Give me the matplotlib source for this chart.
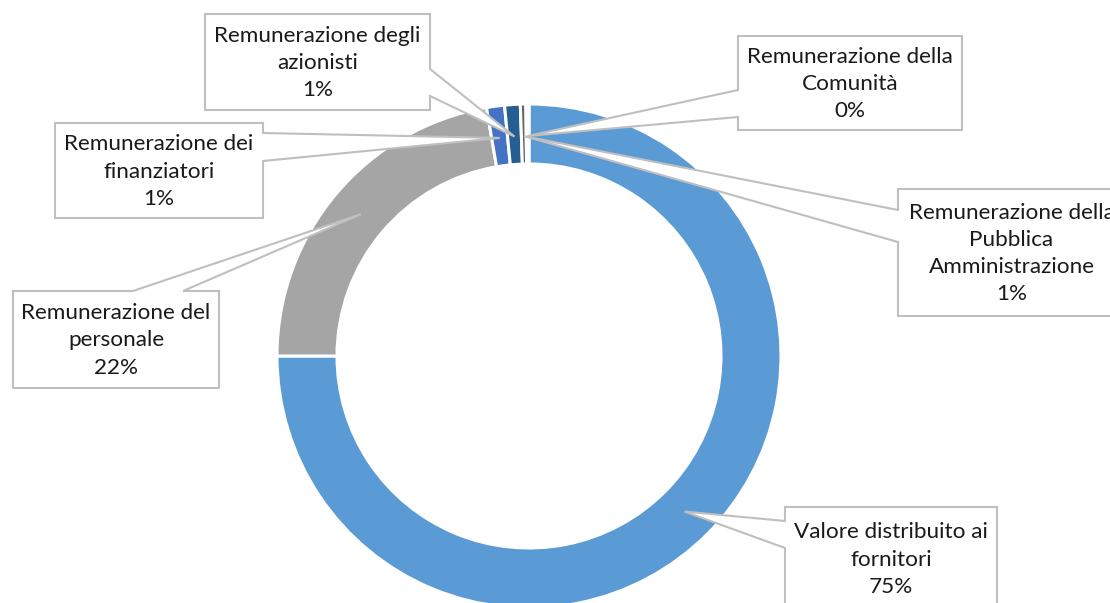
import numpy as np
import matplotlib.pyplot as plt
from matplotlib.patches import Polygon

categories = [
    "Valore distribuito ai\nfornitori",
    "Remunerazione del\npersonale",
    "Remunerazione dei\nfinanziatori",
    "Remunerazione degli\nazionisti",
    "Remunerazione della\nPubblica\nAmministrazione",
    "Remunerazione della\nComunità",
]
values = [75.0, 22.3, 1.15, 1.0, 0.35, 0.2]
pct_labels = ["75%", "22%", "1%", "1%", "1%", "0%"]
colors = ["#5B9BD5", "#A5A5A5", "#4472C4", "#255E91", "#636363", "#997300"]

W, H = 1110, 603
cx, cy = 529, 356
r_out, ring = 252, 60

fig = plt.figure(figsize=(W / 100, H / 100), dpi=100)
ax = fig.add_axes([0, 0, 1, 1])

wedges, _ = ax.pie(values, colors=colors, startangle=270, counterclock=True,
                   radius=r_out, center=(cx, cy),
                   wedgeprops=dict(width=ring, edgecolor="white", linewidth=2.2))
ax.set_xlim(0, W)
ax.set_ylim(H, 0)
ax.axis("off")

# callout boxes (pixel coords): x0, y0, x1, y1, side, a, b
boxes = [
    (785, 507, 997, 610, "left", 521, 548),
    (13, 291, 219, 388, "top", 133, 183),
    (55, 123, 263, 218, "right", 133, 161),
    (205, 14, 430, 110, "right", 69, 96),
    (898, 189, 1125, 316, "left", 210, 242),
    (738, 36, 962, 130, "left", 90, 117),
]

r_tip = r_out - ring / 2 - 2
for w, (x0, y0, x1, y1, side, a, b), cat, pct in zip(wedges, boxes, categories, pct_labels):
    th = np.deg2rad((w.theta1 + w.theta2) / 2)
    tip = (cx + r_tip * np.cos(th), cy + r_tip * np.sin(th))
    if side == "left":
        pts = [(x0, y0), (x1, y0), (x1, y1), (x0, y1), (x0, b), tip, (x0, a)]
    elif side == "right":
        pts = [(x0, y0), (x1, y0), (x1, a), tip, (x1, b), (x1, y1), (x0, y1)]
    else:
        pts = [(x0, y0), (a, y0), tip, (b, y0), (x1, y0), (x1, y1), (x0, y1)]
    ax.add_patch(Polygon(pts, closed=True, facecolor="white", edgecolor="#BFBFBF",
                         linewidth=1.5, zorder=3))
    ax.text((x0 + x1) / 2, (y0 + y1) / 2 + 1, cat + "\n" + pct, ha="center", va="center",
            fontsize=16.2, family="Lato", color="#1a1a1a", linespacing=1.45, zorder=4)

fig.savefig("out.png", dpi=100)
